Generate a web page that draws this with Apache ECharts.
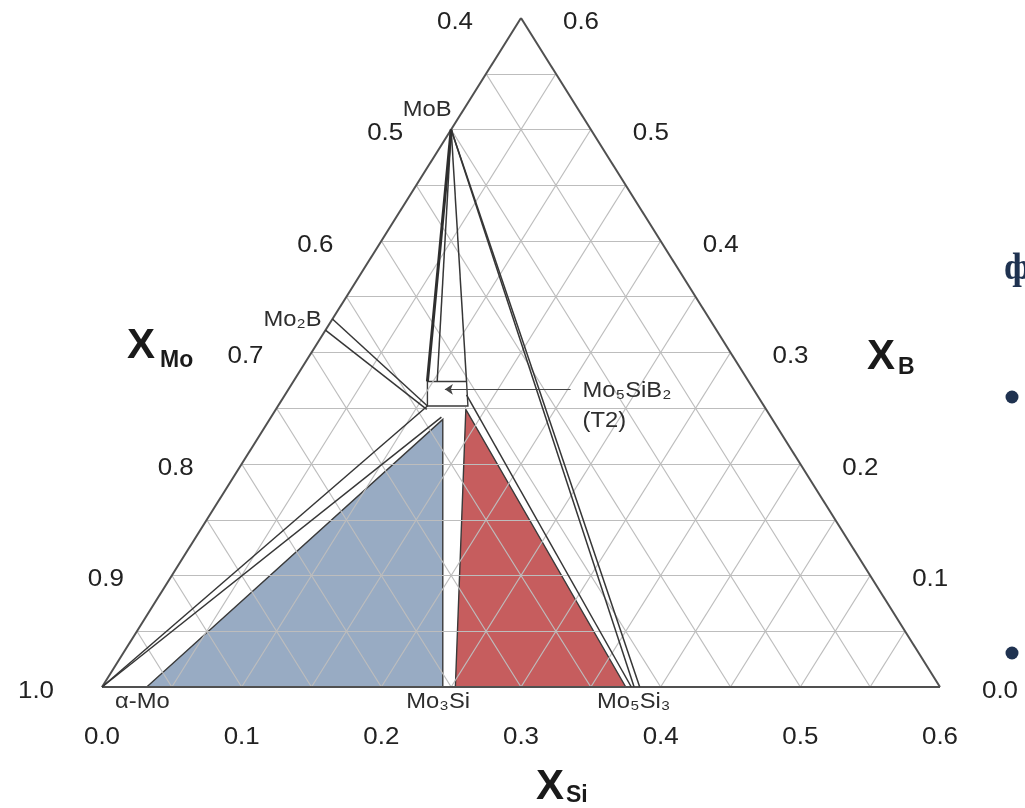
<!DOCTYPE html>
<html>
<head>
<meta charset="utf-8">
<title>Mo-Si-B</title>
<script src="https://cdn.jsdelivr.net/npm/echarts@6/dist/echarts.min.js"></script>
<style>
  html, body { margin: 0; padding: 0; background: #fff; }
  #chart { width: 1025px; height: 808px; }
</style>
</head>
<body>
<div id="chart"></div>
<script>
  // every point is a composition [X_Si, X_B]; X_Mo = 1 - X_Si - X_B
  var siTicks = [0.0, 0.1, 0.2, 0.3, 0.4, 0.5, 0.6];
  var bTicks = [0.0, 0.1, 0.2, 0.3, 0.4, 0.5, 0.6];
  var moTicks = [1.0, 0.9, 0.8, 0.7, 0.6, 0.5, 0.4];
  var gridStep = 0.05;

  var corners = [[0, 0], [0.6, 0], [0, 0.6]];

  // phase fields
  var moSiT2Field = [[0.032, 0], [0.244, 0], [0.124, 0.240]];     // a-Mo + Mo3Si + T2
  var mo3SiT1Field = [[0.253, 0], [0.375, 0], [0.136, 0.249]];    // Mo3Si + T2 + Mo5Si3
  var t2Box = [[0.096, 0.274], [0.124, 0.274], [0.136, 0.252], [0.107, 0.252]];

  // tie lines
  var tieLines = [
    [[0, 0], [0.107, 0.252]],
    [[0, 0], [0.122, 0.242]],
    [[0, 0.330], [0.107, 0.252]],
    [[0, 0.320], [0.108, 0.249]],
    [[0, 0.5], [0.103, 0.274]],
    [[0, 0.5], [0.124, 0.274]],
    [[0, 0.5], [0.381, 0]],
    [[0, 0.5], [0.385, 0]],
    [[0.130, 0.262], [0.379, 0]]
  ];
  var heavyLine = [[0, 0.5], [0.096, 0.274]];
  var t2Arrow = [[0.202, 0.267], [0.112, 0.267]];

  // phase names and where they sit
  var phaseNames = ['MoB', 'Mo\u2082B', '\u03b1-Mo', 'Mo\u2083Si', 'Mo\u2085Si\u2083', 'Mo\u2085SiB\u2082', '(T2)'];
  var phasePoints = [[0, 0.5], [0, 0.333], [0, 0], [0.25, 0], [0.375, 0], [0.202, 0.267], [0.202, 0.267]];

  var chart = echarts.init(document.getElementById('chart'));

  function toXY(p) {
    return [p[0] + p[1] / 2, p[1]];
  }

  /*grid lines every 0.05 inside the triangle*/
  var gridLines = [];
  for (var k = 1; k < 12; k++) {
    var c = k * gridStep;
    gridLines.push([[0, c], [0.6 - c, c]]);   // constant B
    gridLines.push([[c, 0], [c, 0.6 - c]]);   // constant Si
    gridLines.push([[c, 0], [0, c]]);         // constant Mo
  }

  var outline = [[corners[0], corners[1]], [corners[1], corners[2]], [corners[2], corners[0]]];

  function linesSeries(segs, color, width, z) {
    return {
      type: 'lines',
      coordinateSystem: 'cartesian2d',
      silent: true,
      z: z,
      lineStyle: {color: color, width: width, opacity: 1},
      data: segs.map(function (s) {
        return {coords: s.map(toXY)};
      })
    };
  }

  var fields = [
    {pts: moSiT2Field, color: '#98abc3'},
    {pts: mo3SiT1Field, color: '#c65d5e'},
    {pts: t2Box, color: 'rgba(255,255,255,0)'}
  ];

  var labelFont = 'normal 22px "Liberation Sans", Arial, sans-serif';
  var tickFont = 'normal 24px "Liberation Sans", Arial, sans-serif';

  // offsets of the phase labels (px)
  var phaseLayout = [
    {dx: -24, dy: -20, align: 'center'},
    {dx: -13, dy: 4, align: 'right'},
    {dx: 13, dy: 15, align: 'left'},
    {dx: -13, dy: 15, align: 'center'},
    {dx: 8, dy: 15, align: 'center'},
    {dx: 12, dy: 2, align: 'left'},
    {dx: 12, dy: 32, align: 'left'}
  ];

  var tickItems = [];
  siTicks.forEach(function (s) {
    tickItems.push({p: [s, 0], text: s.toFixed(1), dx: 0, dy: 50});
  });
  bTicks.forEach(function (b) {
    tickItems.push({p: [0.6 - b, b], text: b.toFixed(1), dx: 60, dy: 4});
  });
  moTicks.forEach(function (m) {
    tickItems.push({p: [0, 1 - m], text: m.toFixed(1), dx: -66, dy: 4});
  });

  function dummy(n) {
    var d = [];
    for (var i = 0; i < n; i++) d.push([0, 0]);
    return d;
  }

  chart.setOption({
    animation: false,
    grid: {left: 102, top: 18, width: 838, height: 669},
    xAxis: {type: 'value', min: 0, max: 0.6, show: false},
    yAxis: {type: 'value', min: 0, max: 0.6, show: false},
    series: [
      {
        type: 'custom',
        coordinateSystem: 'cartesian2d',
        silent: true,
        z: 1,
        data: dummy(fields.length),
        renderItem: function (params, api) {
          var f = fields[params.dataIndex];
          var pts = f.pts.map(function (p) {
            return api.coord(toXY(p));
          });
          return {
            type: 'polygon',
            shape: {points: pts},
            style: {fill: f.color, stroke: '#3a3a3a', lineWidth: 1.4}
          };
        }
      },
      linesSeries(gridLines, '#bdbdbd', 1.2, 2),
      linesSeries(outline, '#505050', 2, 3),
      linesSeries(tieLines, '#363636', 1.5, 4),
      linesSeries([heavyLine], '#2e2e2e', 3, 4),
      {
        type: 'lines',
        coordinateSystem: 'cartesian2d',
        silent: true,
        z: 5,
        symbol: ['none', 'arrow'],
        symbolSize: 8,
        lineStyle: {color: '#444444', width: 1.2, opacity: 1},
        data: [{coords: t2Arrow.map(toXY)}]
      },
      {
        type: 'custom',
        coordinateSystem: 'cartesian2d',
        silent: true,
        z: 6,
        data: dummy(phaseNames.length),
        renderItem: function (params, api) {
          var i = params.dataIndex;
          var pt = api.coord(toXY(phasePoints[i]));
          var lay = phaseLayout[i];
          return {
            type: 'text',
            x: pt[0] + lay.dx,
            y: pt[1] + lay.dy,
            scaleX: 1.08,
            style: {
              text: phaseNames[i],
              font: labelFont,
              fill: '#2e2e2e',
              textAlign: lay.align,
              textVerticalAlign: 'middle'
            }
          };
        }
      },
      {
        type: 'custom',
        coordinateSystem: 'cartesian2d',
        silent: true,
        z: 6,
        data: dummy(tickItems.length),
        renderItem: function (params, api) {
          var t = tickItems[params.dataIndex];
          var pt = api.coord(toXY(t.p));
          return {
            type: 'text',
            x: pt[0] + t.dx,
            y: pt[1] + t.dy,
            scaleX: 1.08,
            style: {
              text: t.text,
              font: tickFont,
              fill: '#222222',
              textAlign: 'center',
              textVerticalAlign: 'middle'
            }
          };
        }
      }
    ],
    graphic: [
      {type: 'text', left: 127, top: 325, style: {text: 'X', font: 'bold 42px "Liberation Sans", Arial', fill: '#1a1a1a'}},
      {type: 'text', left: 160, top: 349, style: {text: 'Mo', font: 'bold 23px "Liberation Sans", Arial', fill: '#1a1a1a'}},
      {type: 'text', left: 867, top: 336, style: {text: 'X', font: 'bold 42px "Liberation Sans", Arial', fill: '#1a1a1a'}},
      {type: 'text', left: 898, top: 356, style: {text: 'B', font: 'bold 23px "Liberation Sans", Arial', fill: '#1a1a1a'}},
      {type: 'text', left: 536, top: 766, style: {text: 'X', font: 'bold 42px "Liberation Sans", Arial', fill: '#1a1a1a'}},
      {type: 'text', left: 566, top: 784, style: {text: 'Si', font: 'bold 23px "Liberation Sans", Arial', fill: '#1a1a1a'}},
      {type: 'text', left: 1004, top: 250, style: {text: '\u0444', font: 'bold 38px "Liberation Serif", serif', fill: '#1f3250'}},
      {type: 'circle', shape: {cx: 1012, cy: 397, r: 6.5}, style: {fill: '#1f3250'}},
      {type: 'circle', shape: {cx: 1012, cy: 653, r: 6.5}, style: {fill: '#1f3250'}}
    ]
  });
</script>
</body>
</html>
